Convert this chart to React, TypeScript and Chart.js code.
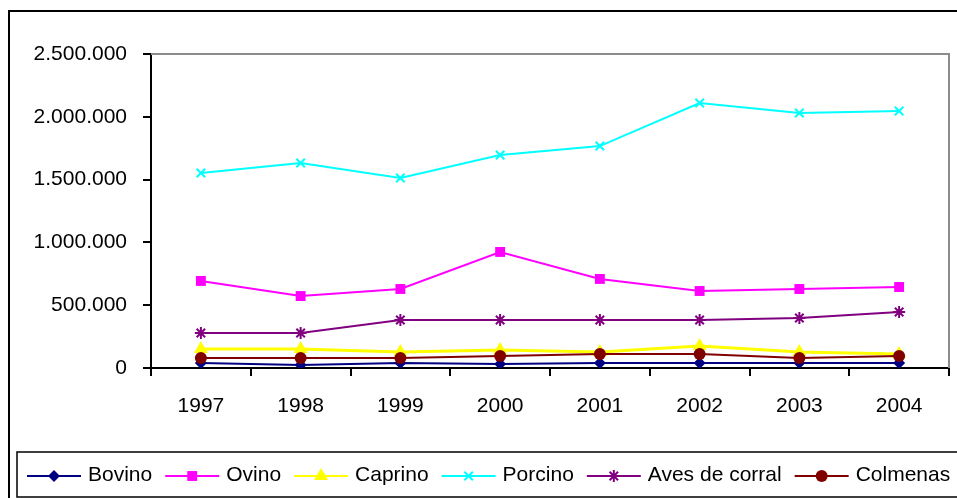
import React, { useEffect, useRef } from "react";
import { Chart, registerables } from "chart.js";

Chart.register(...registerables);

const years = ["1997", "1998", "1999", "2000", "2001", "2002", "2003", "2004"];
const bovino = [40000, 24000, 40000, 32000, 40000, 40000, 40000, 40000];
const ovino = [693000, 573000, 629000, 924000, 709000, 613000, 629000, 645000];
const caprino = [151000, 151000, 127000, 143000, 127000, 175000, 127000, 111000];
const porcino = [1552000, 1632000, 1513000, 1696000, 1767000, 2110000, 2030000, 2046000];
const aves = [279000, 279000, 382000, 382000, 382000, 382000, 398000, 446000];
const colmenas = [80000, 80000, 80000, 96000, 111000, 111000, 80000, 96000];

const seriesNames = ["Bovino", "Ovino", "Caprino", "Porcino", "Aves de corral", "Colmenas"];
const seriesData = [bovino, ovino, caprino, porcino, aves, colmenas];
const seriesColors = ["#000080", "#FF00FF", "#FFFF00", "#00FFFF", "#800080", "#800000"];
const seriesStyles = ["rectRot", "rect", "triangle", "crossRot", "star", "circle"];
const seriesRadius = [6, 7, 8, 6, 6, 6];

const FONT = '"Liberation Sans", Arial, sans-serif';

function fmt(n: number) {
  return String(n).replace(/\B(?=(\d{3})+(?!\d))/g, ".");
}

function marker(ctx: CanvasRenderingContext2D, style: string, x: number, y: number, r: number, color: string) {
  ctx.save();
  ctx.fillStyle = color;
  ctx.strokeStyle = color;
  ctx.lineWidth = 2;
  ctx.beginPath();
  if (style === "rectRot") {
    ctx.moveTo(x, y - r);
    ctx.lineTo(x + r, y);
    ctx.lineTo(x, y + r);
    ctx.lineTo(x - r, y);
    ctx.closePath();
    ctx.fill();
  } else if (style === "rect") {
    const s = r * Math.SQRT1_2;
    ctx.rect(x - s, y - s, 2 * s, 2 * s);
    ctx.fill();
  } else if (style === "triangle") {
    ctx.moveTo(x, y - r);
    ctx.lineTo(x + r * 0.87, y + r * 0.5);
    ctx.lineTo(x - r * 0.87, y + r * 0.5);
    ctx.closePath();
    ctx.fill();
  } else if (style === "crossRot") {
    const o = r * Math.SQRT1_2;
    ctx.moveTo(x - o, y - o);
    ctx.lineTo(x + o, y + o);
    ctx.moveTo(x - o, y + o);
    ctx.lineTo(x + o, y - o);
    ctx.stroke();
  } else if (style === "star") {
    const o = r * Math.SQRT1_2;
    ctx.moveTo(x - o, y - o);
    ctx.lineTo(x + o, y + o);
    ctx.moveTo(x - o, y + o);
    ctx.lineTo(x + o, y - o);
    ctx.moveTo(x, y - r);
    ctx.lineTo(x, y + r);
    ctx.stroke();
  } else {
    ctx.arc(x, y, r, 0, Math.PI * 2);
    ctx.fill();
  }
  ctx.restore();
}

const framePlugin = {
  id: "frame",
  beforeDatasetsDraw(chart: any) {
    const { ctx, chartArea } = chart;
    ctx.save();
    ctx.strokeStyle = "#8c8c8c";
    ctx.lineWidth = 2;
    ctx.beginPath();
    ctx.moveTo(chartArea.left, chartArea.top);
    ctx.lineTo(chartArea.right, chartArea.top);
    ctx.lineTo(chartArea.right, chartArea.bottom);
    ctx.stroke();
    ctx.restore();
  },
  afterDraw(chart: any) {
    const ctx: CanvasRenderingContext2D = chart.ctx;
    ctx.save();
    ctx.strokeStyle = "#000";
    ctx.lineWidth = 2;
    ctx.strokeRect(9, 11, 1100, 1000);
    ctx.lineWidth = 1.5;
    ctx.strokeRect(17, 452, 1100, 45);
    ctx.font = "21px " + FONT;
    ctx.textBaseline = "middle";
    ctx.fillStyle = "#000";
    let x = 27;
    const ly = 476;
    chart.data.datasets.forEach((ds: any) => {
      ctx.strokeStyle = ds.borderColor;
      ctx.lineWidth = 2;
      ctx.beginPath();
      ctx.moveTo(x, ly);
      ctx.lineTo(x + 54, ly);
      ctx.stroke();
      marker(ctx, ds.pointStyle, x + 27, ly, ds.pointRadius, ds.borderColor);
      ctx.fillStyle = "#000";
      ctx.fillText(ds.label, x + 61, 475);
      x = x + 61 + ctx.measureText(ds.label).width + 13;
    });
    ctx.restore();
  },
};

export default function App() {
  const ref = useRef<HTMLCanvasElement>(null);
  useEffect(() => {
    const canvas = ref.current!;
    const chart = new Chart(canvas, {
      type: "line",
      data: {
        labels: years,
        datasets: seriesNames.map((name, i) => ({
          label: name,
          data: seriesData[i],
          borderColor: seriesColors[i],
          backgroundColor: seriesColors[i],
          pointStyle: seriesStyles[i] as any,
          pointRadius: seriesRadius[i],
          pointBorderWidth: seriesStyles[i] === "crossRot" || seriesStyles[i] === "star" ? 2 : 0,
          pointBorderColor: seriesColors[i],
          borderWidth: seriesStyles[i] === "triangle" ? 3 : 2,
          tension: 0,
          order: 6 - i,
        })),
      },
      options: {
        responsive: false,
        animation: false,
        devicePixelRatio: 1,
        layout: { padding: { top: 54, right: 5, left: 0, bottom: 70 } },
        plugins: { legend: { display: false }, tooltip: { enabled: false }, title: { display: false } },
        scales: {
          x: {
            type: "category",
            offset: true,
            grid: { offset: true, drawOnChartArea: false, drawTicks: true, tickLength: 8, color: "#000", lineWidth: 2 },
            border: { color: "#000", width: 2 },
            ticks: { color: "#000", font: { family: FONT, size: 21 }, padding: 18, maxRotation: 0, autoSkip: false },
            afterFit: (s: any) => { s.height = 60; },
          },
          y: {
            min: 0,
            max: 2500000,
            grid: { drawOnChartArea: false, drawTicks: true, tickLength: 8, color: "#000", lineWidth: 2 },
            border: { color: "#000", width: 2 },
            ticks: {
              stepSize: 500000,
              color: "#000",
              padding: 16,
              font: { family: FONT, size: 21 },
              callback: (v: any) => fmt(Number(v)),
            },
            afterFit: (s: any) => { s.width = 151; },
          },
        },
      },
      plugins: [framePlugin],
    });
    return () => chart.destroy();
  }, []);
  return (
    <div style={{ position: "absolute", left: 0, top: 0, width: 957, height: 498, background: "#fff" }}>
      <canvas ref={ref} width={957} height={498} style={{ width: 957, height: 498, display: "block" }} />
    </div>
  );
}
